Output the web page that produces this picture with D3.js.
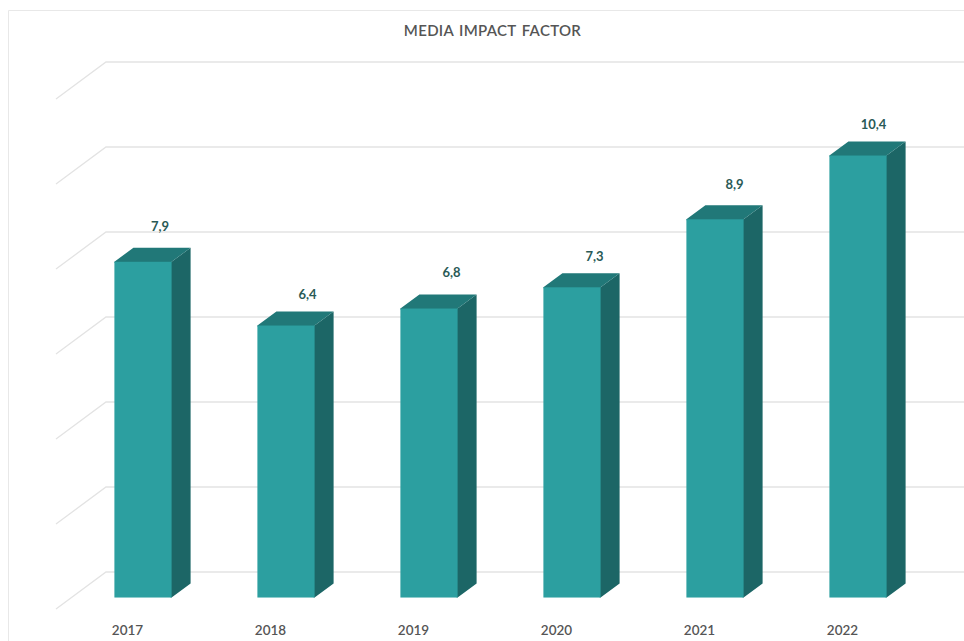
<!DOCTYPE html>
<html>
<head>
<meta charset="utf-8">
<script src="https://cdn.jsdelivr.net/npm/d3@7"></script>
<style>
  html, body { margin: 0; padding: 0; background: #fff; overflow: hidden; }
  svg { display: block; }
  text { font-family: Lato, "Open Sans", sans-serif; }
</style>
</head>
<body>
<svg id="chart" width="964" height="641"></svg>
<script>
const years = ['2017', '2018', '2019', '2020', '2021', '2022'];
const impactFactor = [7.9, 6.4, 6.8, 7.3, 8.9, 10.4];
const gridTicks = [0, 2, 4, 6, 8, 10, 12];

const chartTitle = 'MEDIA IMPACT FACTOR';

// depth of the 3d floor, front edge to back wall
const depthX = 50;
const depthY = -37;
// bars stand a bit behind the front edge and are not as deep as the floor
const barStart = 0.31;
const barDepth = 0.38;

// labels were dragged by hand in the original, these are the offsets from the bar top
const labelNudgeX = [-2, 2.5, 3.5, 3.5, 0.5, -3.5];
const labelNudgeY = [-35, -31, -36, -30, -34, -31];

const colors = { front: '#2c9fa0', top: '#217878', side: '#1c6666', grid: '#e3e3e3', label: '#2a5a56', axis: '#555555' };

let svg = d3.select('#chart');

// frame of the chart area, runs off the right and bottom of the picture
svg.append('path')
    .attr('d', 'M8.5,641V10.5H964')
    .attr('fill', 'none')
    .attr('stroke', '#e8e8e8')
    .attr('stroke-width', 1);

svg.append('text')
    .attr('x', 492.5)
    .attr('y', 36)
    .attr('text-anchor', 'middle')
    .attr('font-size', 15)
    .attr('font-weight', 600)
    .attr('letter-spacing', 0.3)
    .attr('word-spacing', 1.5)
    .attr('fill', colors.axis)
    .text(chartTitle);

let xScale = d3.scaleBand().domain(years).range([56, 914]).paddingInner(0.6).paddingOuter(0.3);
let yScale = d3.scaleLinear().domain([0, 12]).range([609, 99]);

// gridlines: side wall diagonal then back wall
svg.append('g')
    .selectAll('path')
    .data(gridTicks)
    .enter()
    .append('path')
    .attr('d', function (d) {
        let x0 = xScale.range()[0];
        let x1 = xScale.range()[1];
        let y = yScale(d);
        return 'M' + x0 + ',' + y + 'L' + (x0 + depthX) + ',' + (y + depthY) + 'H' + (x1 + depthX);
    })
    .attr('fill', 'none')
    .attr('stroke', colors.grid)
    .attr('stroke-width', 1.3);

let bars = svg.append('g')
    .selectAll('g')
    .data(years)
    .enter()
    .append('g');

// returns front-left x, right x, top y and base y of a bar's front face
function barBox(d, i) {
    let x0 = xScale(d) + depthX * barStart;
    return {
        x0: x0,
        x1: x0 + xScale.bandwidth(),
        top: yScale(impactFactor[i]) + depthY * barStart,
        base: yScale(0) + depthY * barStart
    };
}

const dx = depthX * barDepth;
const dy = depthY * barDepth;

// side and top run 1px under the front face so no white seam shows
bars.append('path')
    .attr('fill', colors.side)
    .attr('d', function (d, i) {
        let b = barBox(d, i);
        return 'M' + (b.x1 - 1) + ',' + b.top + 'H' + b.x1 + 'l' + dx + ',' + dy + 'V' + (b.base + dy) + 'l' + (-dx) + ',' + (-dy) + 'H' + (b.x1 - 1) + 'Z';
    });

bars.append('path')
    .attr('fill', colors.top)
    .attr('d', function (d, i) {
        let b = barBox(d, i);
        return 'M' + b.x0 + ',' + (b.top + 1) + 'V' + b.top + 'l' + dx + ',' + dy + 'H' + (b.x1 + dx) + 'l' + (-dx) + ',' + (-dy) + 'V' + (b.top + 1) + 'Z';
    });

bars.append('rect')
    .attr('fill', colors.front)
    .attr('x', function (d, i) { return barBox(d, i).x0; })
    .attr('y', function (d, i) { return barBox(d, i).top; })
    .attr('width', xScale.bandwidth())
    .attr('height', function (d, i) { return barBox(d, i).base - barBox(d, i).top; });

// value labels, decimal comma like the original
bars.append('text')
    .attr('x', function (d, i) { return barBox(d, i).x0 + xScale.bandwidth() / 2 + dx + labelNudgeX[i]; })
    .attr('y', function (d, i) { return barBox(d, i).top + labelNudgeY[i] + 4; })
    .attr('text-anchor', 'middle')
    .attr('font-size', 13)
    .attr('font-weight', 700)
    .attr('fill', colors.label)
    .text(function (d, i) { return String(impactFactor[i]).replace('.', ','); });

// x axis
let xAxis = svg.append('g')
    .attr('transform', 'translate(0,' + yScale(0) + ')')
    .call(d3.axisBottom(xScale).tickSize(0).tickPadding(16));

xAxis.select('.domain').remove();
xAxis.selectAll('.tick text')
    .attr('font-family', 'Lato, "Open Sans", sans-serif')
    .attr('font-size', 13.5)
    .attr('font-weight', 600)
    .attr('fill', colors.axis);
</script>
</body>
</html>
